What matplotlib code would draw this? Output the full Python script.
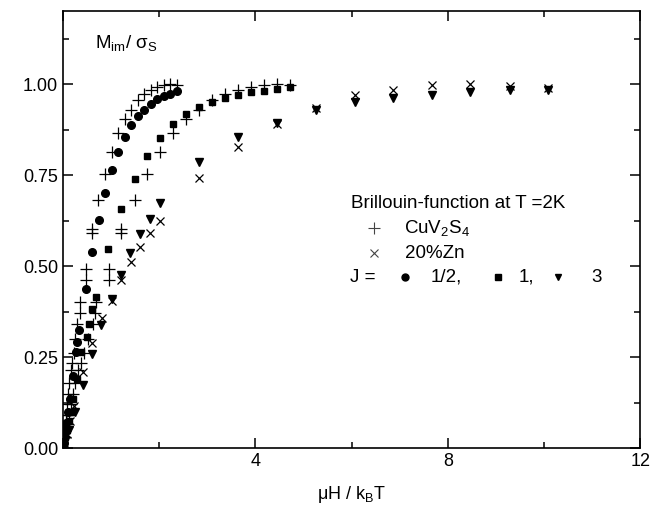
import matplotlib
matplotlib.use('Agg')
import matplotlib.pyplot as plt
from matplotlib.ticker import MultipleLocator, FixedLocator

plt.rcParams['font.family'] = ['Liberation Sans', 'DejaVu Sans']
plt.rcParams['mathtext.fontset'] = 'custom'
plt.rcParams['mathtext.rm'] = 'Liberation Sans'
plt.rcParams['mathtext.it'] = 'Liberation Sans:italic'

# CuV2S4 data, plotted against the J=1/2 scale and the J=1 scale
cuv_x_half = [2.36, 2.22, 2.09, 1.96, 1.82, 1.69, 1.55, 1.41, 1.29, 1.15, 1.01, 0.87, 0.73,
              0.60, 0.60, 0.47, 0.47, 0.35, 0.35, 0.30, 0.26, 0.22, 0.19, 0.16, 0.13, 0.10,
              0.08, 0.06, 0.04, 0.02]
cuv_x_one = [4.72, 4.45, 4.18, 3.90, 3.63, 3.37, 3.09, 2.82, 2.56, 2.29, 2.01, 1.75, 1.49,
             1.21, 1.20, 0.95, 0.95, 0.68, 0.67, 0.62, 0.52, 0.44, 0.38, 0.32, 0.26, 0.20,
             0.16, 0.12, 0.08, 0.04]
cuv_y = [0.997, 0.999, 0.997, 0.991, 0.985, 0.972, 0.956, 0.930, 0.903, 0.865, 0.814, 0.752, 0.681,
         0.601, 0.590, 0.492, 0.462, 0.402, 0.370, 0.340, 0.300, 0.262, 0.234, 0.214, 0.180, 0.150,
         0.120, 0.090, 0.060, 0.030]

# 20%Zn data
zn_x = [10.09, 9.29, 8.47, 7.67, 6.86, 6.06, 5.26, 4.45, 3.63, 2.82, 2.01, 1.81, 1.61, 1.41,
        1.20, 1.01, 0.81, 0.61, 0.41, 0.22, 0.15, 0.08, 0.03]
zn_y = [0.990, 0.995, 1.000, 0.997, 0.984, 0.970, 0.935, 0.890, 0.828, 0.741, 0.624, 0.592,
        0.553, 0.512, 0.463, 0.405, 0.358, 0.288, 0.208, 0.115, 0.075, 0.040, 0.015]

# Brillouin function points
b_half_x = [2.36, 2.22, 2.09, 1.95, 1.82, 1.69, 1.55, 1.41, 1.29, 1.15, 1.01, 0.875, 0.744,
            0.60, 0.47, 0.327, 0.30, 0.265, 0.20, 0.14, 0.10, 0.07, 0.05, 0.03, 0.015]
b_half_y = [0.981, 0.974, 0.968, 0.958, 0.946, 0.930, 0.912, 0.887, 0.854, 0.814, 0.764, 0.701,
            0.627, 0.539, 0.438, 0.324, 0.292, 0.263, 0.198, 0.135, 0.100, 0.070, 0.050, 0.030, 0.015]

b_one_x = [4.72, 4.45, 4.17, 3.90, 3.63, 3.37, 3.09, 2.82, 2.56, 2.28, 2.01, 1.75, 1.49, 1.21,
           0.945, 0.68, 0.61, 0.535, 0.49, 0.38, 0.30, 0.21, 0.16, 0.12, 0.08, 0.05, 0.02]
b_one_y = [0.991, 0.986, 0.982, 0.978, 0.971, 0.962, 0.951, 0.936, 0.917, 0.889, 0.853, 0.803,
           0.740, 0.656, 0.547, 0.416, 0.381, 0.342, 0.306, 0.263, 0.190, 0.134, 0.100, 0.075,
           0.050, 0.030, 0.012]

b_three_x = [10.09, 9.29, 8.47, 7.67, 6.86, 6.06, 5.26, 4.45, 3.63, 2.82, 2.01, 1.81, 1.60,
             1.40, 1.20, 1.01, 0.80, 0.61, 0.42, 0.25, 0.12, 0.05]
b_three_y = [0.985, 0.984, 0.977, 0.970, 0.961, 0.951, 0.929, 0.892, 0.855, 0.787, 0.672, 0.629,
             0.587, 0.535, 0.475, 0.411, 0.338, 0.258, 0.174, 0.100, 0.050, 0.020]

fig = plt.figure(figsize=(6.56, 5.11), dpi=100)
ax = fig.add_axes([0.096, 0.123, 0.880, 0.855])

ax.plot(b_half_x, b_half_y, 'o', color='black', markersize=5.5, linestyle='none')
ax.plot(b_one_x, b_one_y, 's', color='black', markersize=4.5, linestyle='none')
ax.plot(b_three_x, b_three_y, 'v', color='black', markersize=5.5, linestyle='none')
ax.plot(cuv_x_half, cuv_y, '+', color='black', markersize=9, markeredgewidth=0.9, linestyle='none')
ax.plot(cuv_x_one, cuv_y, '+', color='black', markersize=9, markeredgewidth=0.9, linestyle='none')
ax.plot(zn_x, zn_y, 'x', color='black', markersize=6, markeredgewidth=0.9, linestyle='none')

ax.set_xlim(0, 12)
ax.set_ylim(0, 1.2)
ax.xaxis.set_major_locator(FixedLocator([0, 4, 8, 12]))
ax.set_xticklabels(['', '4', '8', '12'])
ax.xaxis.set_minor_locator(FixedLocator([2, 6, 10]))
ax.yaxis.set_major_locator(FixedLocator([0, 0.25, 0.5, 0.75, 1.0]))
ax.set_yticklabels(['0.00', '0.25', '0.50', '0.75', '1.00'])
ax.yaxis.set_minor_locator(MultipleLocator(0.125))
ax.tick_params(which='both', direction='in', top=True, right=True, labelsize=13, width=1.1)
ax.tick_params(which='major', length=7)
ax.tick_params(which='minor', length=4)
for s in ax.spines.values():
    s.set_linewidth(1.2)

ax.set_xlabel('μH / k$_{\\rm B}$T', fontsize=13, labelpad=10)
ax.text(0.055, 0.927, 'M$_{\\rm im}$/ σ$_{\\rm S}$', transform=ax.transAxes, fontsize=13.5,
        va='center', ha='left')

# legend block drawn by hand
fs = 13.5
tr = ax.transAxes
ax.text(0.499, 0.561, 'Brillouin-function at T =2K', transform=tr, fontsize=fs, va='center')
ax.plot([0.538], [0.504], '+', transform=tr, color='#444444', markersize=9, markeredgewidth=0.8)
ax.text(0.591, 0.504, 'CuV$_2$S$_4$', transform=tr, fontsize=fs, va='center')
ax.plot([0.538], [0.446], 'x', transform=tr, color='#444444', markersize=6, markeredgewidth=0.8)
ax.text(0.593, 0.446, '20%Zn', transform=tr, fontsize=fs, va='center')
ax.text(0.498, 0.391, 'J =', transform=tr, fontsize=fs, va='center')
ax.plot([0.593], [0.391], 'o', transform=tr, color='black', markersize=5)
ax.text(0.637, 0.391, '1/2,', transform=tr, fontsize=fs, va='center')
ax.plot([0.753], [0.391], 's', transform=tr, color='black', markersize=4.5)
ax.text(0.789, 0.391, '1,', transform=tr, fontsize=fs, va='center')
ax.plot([0.857], [0.391], 'v', transform=tr, color='black', markersize=5)
ax.text(0.916, 0.391, '3', transform=tr, fontsize=fs, va='center')

fig.savefig('out.png', dpi=100)
